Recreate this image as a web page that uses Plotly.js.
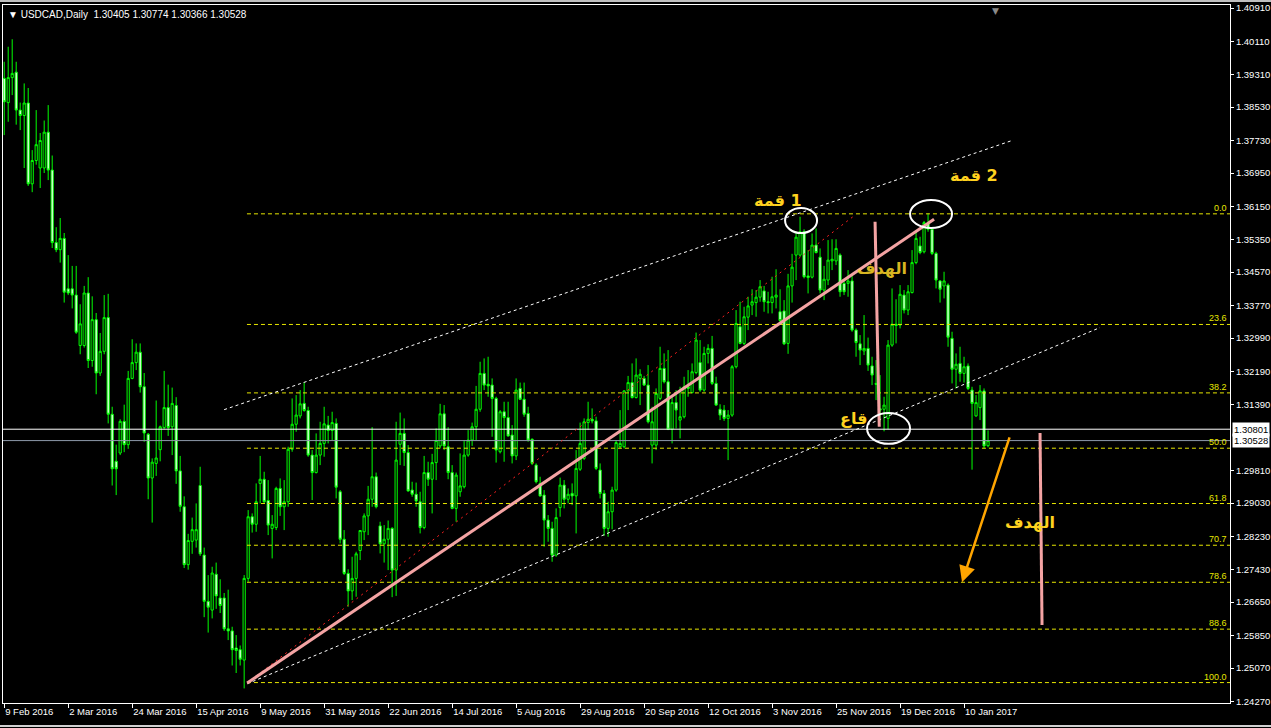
<!DOCTYPE html>
<html><head><meta charset="utf-8">
<script src="https://cdn.plot.ly/plotly-3.0.1.min.js"></script>
<style>html,body{margin:0;padding:0;background:#000;overflow:hidden}#chart{width:1271px;height:728px}</style>
</head><body><div id="chart"></div>
<script>
// ---------- data ----------
const chartTitle = "USDCAD,Daily";
const lastQuote = ["1.30405", "1.30774", "1.30366", "1.30528"];
const xTickIdx = [0,16,32,48,64,80,96,112,128,144,160,176,192,208,224,240];
const xTickLabels = ["9 Feb 2016","2 Mar 2016","24 Mar 2016","15 Apr 2016","9 May 2016","31 May 2016","22 Jun 2016","14 Jul 2016","5 Aug 2016","29 Aug 2016","20 Sep 2016","12 Oct 2016","3 Nov 2016","25 Nov 2016","19 Dec 2016","10 Jan 2017"];
const yTickVals = [1.40910,1.40110,1.39310,1.38530,1.37730,1.36950,1.36150,1.35350,1.34570,1.33770,1.32990,1.32190,1.31390,1.29810,1.29030,1.28230,1.27430,1.26650,1.25850,1.25070,1.24270];

const open = [
1.3922,1.3864,1.3924,1.3937,1.3846,1.3833,1.3863,1.3669,1.3725,1.3707,
1.3707,1.3793,1.3702,1.3528,1.3511,1.3538,1.3417,1.3417,1.3402,1.3281,
1.3281,1.3407,1.3245,1.3343,1.3215,1.3267,1.3348,1.3116,1.3003,1.3023,
1.3099,1.3043,1.3202,1.3240,1.3265,1.3182,1.3068,1.2963,1.2998,1.3031,
1.3084,1.3132,1.3086,1.3137,1.2980,1.2894,1.2755,1.2811,1.2814,1.2945,
1.2778,1.2667,1.2646,1.2732,1.2675,1.2675,1.2601,1.2596,1.2555,1.2551,
1.2526,1.2722,1.2870,1.2852,1.2950,1.2960,1.2909,1.2842,1.2844,1.2938,
1.2894,1.2906,1.3032,1.3092,1.3112,1.3142,1.3125,1.3018,1.2976,1.3018,
1.3046,1.3090,1.3077,1.3094,1.2930,1.2816,1.2734,1.2692,1.2722,1.2789,
1.2834,1.2872,1.2912,1.2966,1.2848,1.2805,1.2816,1.2842,1.2742,1.3044,
1.3070,1.3024,1.2934,1.2924,1.2906,1.2844,1.2976,1.2960,1.3000,1.3040,
1.3117,1.3038,1.2976,1.2890,1.2930,1.2942,1.3018,1.3054,1.3086,1.3128,
1.3214,1.3188,1.3186,1.3154,1.3026,1.3122,1.3108,1.3066,1.3016,1.3178,
1.3152,1.3118,1.3056,1.2994,1.2950,1.2922,1.2862,1.2842,1.2778,1.2892,
1.2946,1.2912,1.2926,1.2920,1.2984,1.3010,1.3096,1.3104,1.3100,1.2982,
1.2926,1.2842,1.2882,1.2934,1.3038,1.3038,1.3172,1.3192,1.3156,1.3202,
1.3202,1.3186,1.3042,1.3042,1.3154,1.3226,1.3194,1.3080,1.3144,1.3102,
1.3110,1.3182,1.3168,1.3216,1.3240,1.3174,1.3262,1.3274,1.3190,1.3128,
1.3126,1.3106,1.3114,1.3230,1.3326,1.3286,1.3349,1.3378,1.3384,1.3397,
1.3412,1.3386,1.3384,1.3397,1.3362,1.3364,1.3286,1.3424,1.3498,1.3498,
1.3554,1.3448,1.3445,1.3522,1.3493,1.3414,1.3438,1.3484,1.3484,1.3498,
1.3430,1.3430,1.3436,1.3318,1.3285,1.3268,1.3274,1.3232,1.3190,1.3129,
1.3128,1.3106,1.3282,1.3332,1.3330,1.3402,1.3366,1.3408,1.3480,1.3520,
1.3506,1.3574,1.3560,1.3502,1.3436,1.3424,1.3426,1.3298,1.3224,1.3238,
1.3214,1.3232,1.3174,1.3112,1.3132,1.3172,1.30405];

const high = [
1.3962,1.3998,1.4016,1.3962,1.3864,1.3910,1.3899,1.3750,1.3846,1.3791,
1.3821,1.3858,1.3737,1.3565,1.3587,1.3551,1.3498,1.3472,1.3472,1.3380,
1.3424,1.3445,1.3399,1.3359,1.3311,1.3402,1.3405,1.3134,1.3043,1.3104,
1.3139,1.3220,1.3296,1.3286,1.3286,1.3215,1.3071,1.3010,1.3149,1.3089,
1.3220,1.3187,1.3180,1.3157,1.3016,1.2919,1.2829,1.2868,1.2902,1.2990,
1.2796,1.2730,1.2750,1.2760,1.2720,1.2687,1.2695,1.2606,1.2586,1.2561,
1.2730,1.2886,1.2878,1.2950,1.3016,1.2978,1.2958,1.2874,1.2942,1.2962,
1.2958,1.3038,1.3154,1.3162,1.3174,1.3192,1.3134,1.3030,1.3070,1.3098,
1.3134,1.3112,1.3122,1.3106,1.2934,1.2838,1.2744,1.2774,1.2786,1.2838,
1.2878,1.2944,1.3085,1.2976,1.2858,1.2850,1.2861,1.2845,1.3098,1.3120,
1.3106,1.3042,1.2954,1.2952,1.2930,1.3016,1.3002,1.3021,1.3082,1.3141,
1.3138,1.3085,1.2994,1.2976,1.3022,1.3054,1.3078,1.3096,1.3184,1.3242,
1.3250,1.3254,1.3202,1.3158,1.3126,1.3146,1.3146,1.3090,1.3202,1.3192,
1.3192,1.3134,1.3058,1.2998,1.2966,1.2934,1.2874,1.2858,1.2890,1.2964,
1.2958,1.2938,1.2950,1.3030,1.3096,1.3106,1.3146,1.3130,1.3110,1.2998,
1.2934,1.2906,1.2942,1.3054,1.3126,1.3174,1.3208,1.3238,1.3250,1.3224,
1.3208,1.3234,1.3134,1.3178,1.3278,1.3262,1.3270,1.3158,1.3174,1.3182,
1.3206,1.3222,1.3238,1.3312,1.3294,1.3278,1.3284,1.3304,1.3206,1.3140,
1.3138,1.3126,1.3234,1.3366,1.3386,1.3374,1.3398,1.3416,1.3414,1.3438,
1.3424,1.3410,1.3446,1.3464,1.3416,1.3390,1.3453,1.3501,1.3554,1.3590,
1.3560,1.3510,1.3550,1.3562,1.3514,1.3472,1.3534,1.3536,1.3536,1.3502,
1.3440,1.3462,1.3450,1.3322,1.3306,1.3354,1.3300,1.3254,1.3246,1.3210,
1.3158,1.3294,1.3418,1.3392,1.3426,1.3414,1.3426,1.3510,1.3554,1.3542,
1.3580,1.3598,1.3562,1.3506,1.3438,1.3458,1.3430,1.3314,1.3262,1.3278,
1.3254,1.3238,1.3182,1.3162,1.3186,1.3178,1.30774];

const low = [
1.3786,1.3818,1.3882,1.3811,1.3798,1.3707,1.3664,1.3649,1.3715,1.3659,
1.3695,1.3678,1.3515,1.3505,1.3480,1.3384,1.3402,1.3370,1.3309,1.3260,
1.3276,1.3227,1.3230,1.3164,1.3208,1.3260,1.3094,1.2945,1.2922,1.3018,
1.3025,1.3033,1.3200,1.3222,1.3168,1.3050,1.2912,1.2856,1.2968,1.3003,
1.3081,1.3064,1.3018,1.2949,1.2882,1.2747,1.2743,1.2781,1.2796,1.2776,
1.2629,1.2592,1.2626,1.2649,1.2639,1.2596,1.2574,1.2513,1.2495,1.2513,
1.2458,1.2714,1.2832,1.2834,1.2902,1.2902,1.2826,1.2770,1.2838,1.2872,
1.2838,1.2894,1.3026,1.3074,1.3106,1.3122,1.3014,1.2910,1.2974,1.2994,
1.3014,1.3046,1.3054,1.2914,1.2806,1.2730,1.2654,1.2670,1.2678,1.2766,
1.2814,1.2826,1.2894,1.2890,1.2782,1.2760,1.2742,1.2677,1.2680,1.2994,
1.2992,1.2930,1.2918,1.2894,1.2830,1.2840,1.2944,1.2878,1.2958,1.3034,
1.3030,1.2960,1.2888,1.2858,1.2918,1.2938,1.3014,1.3040,1.3054,1.3122,
1.3174,1.3158,1.3062,1.3000,1.3022,1.3002,1.3062,1.2998,1.3006,1.3150,
1.3110,1.3050,1.2994,1.2950,1.2918,1.2798,1.2810,1.2762,1.2774,1.2870,
1.2890,1.2902,1.2898,1.2830,1.2980,1.3006,1.3078,1.3094,1.2982,1.2914,
1.2824,1.2822,1.2840,1.2930,1.3034,1.3034,1.3126,1.3154,1.3154,1.3138,
1.3184,1.3094,1.2998,1.3030,1.3150,1.3190,1.3078,1.3046,1.3082,1.3058,
1.3106,1.3158,1.3166,1.3212,1.3170,1.3170,1.3238,1.3186,1.3136,1.3102,
1.3100,1.3006,1.3110,1.3226,1.3284,1.3282,1.3318,1.3354,1.3350,1.3386,
1.3362,1.3358,1.3358,1.3370,1.3336,1.3282,1.3261,1.3384,1.3438,1.3494,
1.3442,1.3406,1.3442,1.3502,1.3406,1.3390,1.3426,1.3462,1.3474,1.3398,
1.3402,1.3398,1.3314,1.3254,1.3234,1.3258,1.3220,1.3186,1.3150,1.3098,
1.3075,1.3080,1.3278,1.3286,1.3322,1.3358,1.3354,1.3406,1.3476,1.3500,
1.3502,1.3554,1.3498,1.3418,1.3384,1.3394,1.3278,1.3190,1.3178,1.3194,
1.3192,1.3174,1.2983,1.3110,1.3102,1.3034,1.30366];

const close = [
1.3866,1.3924,1.3934,1.3846,1.3833,1.3863,1.3669,1.3725,1.3763,1.3773,
1.3793,1.3702,1.3528,1.3511,1.3538,1.3409,1.3407,1.3402,1.3313,1.3333,
1.3407,1.3245,1.3343,1.3215,1.3267,1.3348,1.3116,1.2985,1.2985,1.3099,
1.3043,1.3202,1.3240,1.3265,1.3182,1.3071,1.2963,1.3001,1.3011,1.3086,
1.3132,1.3084,1.3142,1.2980,1.2895,1.2755,1.2813,1.2839,1.2839,1.2781,
1.2667,1.2653,1.2735,1.2680,1.2657,1.2601,1.2596,1.2551,1.2549,1.2528,
1.2722,1.2870,1.2852,1.2906,1.2960,1.2906,1.2850,1.2852,1.2938,1.2894,
1.2906,1.3032,1.3092,1.3114,1.3141,1.3125,1.3018,1.2976,1.3018,1.3046,
1.3093,1.3077,1.3096,1.2941,1.2816,1.2734,1.2692,1.2722,1.2781,1.2837,
1.2872,1.2912,1.2966,1.2894,1.2805,1.2816,1.2842,1.2742,1.3006,1.3070,
1.3024,1.2932,1.2924,1.2908,1.2844,1.2976,1.2960,1.3000,1.3053,1.3117,
1.3040,1.2976,1.2890,1.2970,1.2944,1.3018,1.3054,1.3086,1.3128,1.3214,
1.3186,1.3184,1.3154,1.3030,1.3122,1.3108,1.3064,1.3016,1.3174,1.3152,
1.3116,1.3054,1.2998,1.2954,1.2920,1.2862,1.2842,1.2778,1.2868,1.2946,
1.2912,1.2924,1.2920,1.2986,1.3046,1.3098,1.3104,1.3100,1.2986,1.2926,
1.2842,1.2882,1.2934,1.3048,1.3046,1.3172,1.3192,1.3156,1.3210,1.3212,
1.3186,1.3098,1.3098,1.3166,1.3226,1.3194,1.3080,1.3144,1.3126,1.3110,
1.3182,1.3178,1.3218,1.3294,1.3174,1.3262,1.3274,1.3190,1.3138,1.3114,
1.3106,1.3114,1.3230,1.3334,1.3286,1.3350,1.3376,1.3386,1.3397,1.3422,
1.3386,1.3384,1.3398,1.3402,1.3341,1.3285,1.3424,1.3469,1.3541,1.3554,
1.3446,1.3444,1.3522,1.3504,1.3414,1.3440,1.3486,1.3488,1.3514,1.3410,
1.3410,1.3436,1.3318,1.3288,1.3270,1.3274,1.3234,1.3210,1.3188,1.3126,
1.3138,1.3282,1.3332,1.3329,1.3404,1.3366,1.3410,1.3480,1.3538,1.3504,
1.3576,1.3560,1.3502,1.3438,1.3416,1.3436,1.3301,1.3224,1.3236,1.3214,
1.3230,1.3178,1.3142,1.3144,1.3172,1.3040,1.30528];

// Fibonacci retracement (drawn from the May low to the Dec high)
const fibRatios = [0.0, 23.6, 38.2, 50.0, 61.8, 70.7, 78.6, 88.6, 100.0];
const fibHigh = 1.3597, fibLow = 1.2472, fibStartBar = 60.7;

// price lines
const hLinePrice = 1.30801;
const bidPrice = 1.30528;

// drawing objects (bar index, price)
const trendLine   = {x: [60.75, 232.5], y: [1.2471, 1.3584]};
const redLine     = {x: [60.75, 212.75], y: [1.2471, 1.3594]};
const chanUpper   = {x: [55.0, 252.0], y: [1.3127, 1.3773]};
const chanLower   = {x: [60.75, 274.0], y: [1.2469, 1.3324]};
const target1     = {x: [217.75, 218.8], y: [1.3578, 1.3086]};
const target2     = {x: [259.0, 259.5], y: [1.3071, 1.2610]};
const arrowLine   = {x: [251.5, 239.5], y: [1.3064, 1.2713]};
const circles = [
  {x: [195.25, 203.25], y: [1.3551, 1.3611]},
  {x: [226.5, 237.0], y: [1.3563, 1.3630]},
  {x: [215.75, 226.5], y: [1.3045, 1.3119]}
];
const labels = [
  {text: "قمة\u200E 1", x: 193.5, y: 1.3628, color: "#FFD21F"},
  {text: "قمة\u200E 2", x: 242.5, y: 1.3690, color: "#FFD21F"},
  {text: "الهدف", x: 219.5, y: 1.3467, color: "rgba(255,215,40,0.85)"},
  {text: "قاع", x: 212.25, y: 1.3107, color: "#FFD21F"},
  {text: "الهدف", x: 256.5, y: 1.2857, color: "#FFD21F"}
];

// ---------- chart ----------
const bars = open.map((_, i) => i);
const GREEN = '#00FF00';

const candle = {
  type: 'candlestick', x: bars, open: open, high: high, low: low, close: close,
  increasing: {line: {color: GREEN, width: 1}, fillcolor: '#000000'},
  decreasing: {line: {color: GREEN, width: 1}, fillcolor: '#FFFFFF'},
  whiskerwidth: 0, hoverinfo: 'skip', showlegend: false
};

const xMax = 306.5;
const shapes = [];
const annotations = [];

// fib levels
fibRatios.forEach(r => {
  const p = fibHigh - r / 100 * (fibHigh - fibLow);
  shapes.push({type: 'line', xref: 'x', yref: 'y', x0: fibStartBar, x1: xMax, y0: p, y1: p,
    line: {color: '#E6E600', width: 1, dash: '4px,3px'}});
  annotations.push({xref: 'paper', yref: 'y', x: 1, y: p, xanchor: 'right', yanchor: 'bottom',
    xshift: -1, yshift: -1, text: r.toFixed(1), showarrow: false,
    font: {family: 'Liberation Sans', size: 9, color: '#E6E600'}});
});

// price lines
shapes.push({type: 'line', xref: 'paper', yref: 'y', x0: 0, x1: 1, y0: hLinePrice, y1: hLinePrice,
  line: {color: '#FFFFFF', width: 1}});
shapes.push({type: 'line', xref: 'paper', yref: 'y', x0: 0, x1: 1, y0: bidPrice, y1: bidPrice,
  line: {color: '#8E9AAA', width: 1}});

function seg(o, color, width, dash) {
  shapes.push({type: 'line', xref: 'x', yref: 'y', x0: o.x[0], x1: o.x[1], y0: o.y[0], y1: o.y[1],
    line: {color: color, width: width, dash: dash || 'solid'}});
}
seg(chanUpper, '#FFFFFF', 1, '3px,3px');
seg(chanLower, '#FFFFFF', 1, '3px,3px');
seg(redLine, '#FF2020', 1, '2px,4px');
seg(trendLine, '#F4A3A3', 3);
seg(target1, '#F4A3A3', 3);
seg(target2, '#F4A3A3', 3);

circles.forEach(c => shapes.push({type: 'circle', xref: 'x', yref: 'y', x0: c.x[0], x1: c.x[1], y0: c.y[0], y1: c.y[1],
  line: {color: '#FFFFFF', width: 2}}));

// outer decorations
shapes.push({type: 'line', xref: 'paper', yref: 'paper', x0: -0.003, x1: 1.034, y0: 1.0057, y1: 1.0057,
  line: {color: '#BFBFBF', width: 2}});
shapes.push({type: 'line', xref: 'paper', yref: 'paper', x0: -0.003, x1: 1.034, y0: -0.0330, y1: -0.0330,
  line: {color: '#D0D0D0', width: 2}});

// arrow
annotations.push({xref: 'x', yref: 'y', axref: 'x', ayref: 'y', x: arrowLine.x[1], y: arrowLine.y[1],
  ax: arrowLine.x[0], ay: arrowLine.y[0], showarrow: true, arrowhead: 2, arrowsize: 1.3, arrowwidth: 2.5,
  arrowcolor: '#FFA500', text: ''});

labels.forEach(l => annotations.push({xref: 'x', yref: 'y', x: l.x, y: l.y, text: '<b>' + l.text + '</b>',
  showarrow: false, font: {family: 'DejaVu Sans', size: 16, color: l.color}}));

// title
annotations.push({xref: 'paper', yref: 'paper', x: 0, y: 1, xanchor: 'left', yanchor: 'top', xshift: 3, yshift: -2,
  showarrow: false, align: 'left',
  text: '\u25BC ' + chartTitle + '\u00A0\u00A0' + lastQuote.join(' '),
  font: {family: 'Liberation Sans', size: 10, color: '#FFFFFF'}});

// chart shift marker
annotations.push({xref: 'x', yref: 'paper', x: 247.75, y: 1, yanchor: 'top', yshift: 1, showarrow: false,
  text: '\u25BC', font: {family: 'DejaVu Sans', size: 9, color: '#8A8A8A'}});

// price boxes on the axis
[hLinePrice, bidPrice].forEach(p => annotations.push({xref: 'paper', yref: 'y', x: 1, y: p, xanchor: 'left',
  yanchor: 'middle', xshift: 2, showarrow: false, text: p.toFixed(5), bgcolor: '#FFFFFF', borderpad: 1,
  font: {family: 'Liberation Sans', size: 9.5, color: '#000000'}}));

const layout = {
  width: 1271, height: 728,
  margin: {l: 3, r: 41, t: 5, b: 25, pad: 0},
  paper_bgcolor: '#000000', plot_bgcolor: '#000000',
  font: {family: 'Liberation Sans', color: '#FFFFFF', size: 9.5},
  showlegend: false, hovermode: false, dragmode: false,
  boxgap: 0.22,
  xaxis: {
    range: [-0.3, xMax], type: 'linear', showgrid: false, zeroline: false,
    showline: true, mirror: true, linecolor: '#FFFFFF', linewidth: 1,
    ticks: 'outside', ticklen: 4, tickcolor: '#FFFFFF',
    tickvals: xTickIdx, ticktext: xTickLabels, ticklabelposition: 'outside right',
    tickfont: {family: 'Liberation Sans', size: 9.5, color: '#FFFFFF'},
    rangeslider: {visible: false}, fixedrange: true
  },
  yaxis: {
    range: [1.2423, 1.40982], side: 'right', showgrid: false, zeroline: false,
    showline: true, mirror: true, linecolor: '#FFFFFF', linewidth: 1,
    ticks: 'outside', ticklen: 3, tickcolor: '#FFFFFF',
    tickvals: yTickVals, ticktext: yTickVals.map(v => v.toFixed(5)),
    tickfont: {family: 'Liberation Sans', size: 9.5, color: '#FFFFFF'}, fixedrange: true
  },
  shapes: shapes,
  annotations: annotations
};

Plotly.newPlot('chart', [candle], layout, {displayModeBar: false, staticPlot: true});
</script>
</body></html>
